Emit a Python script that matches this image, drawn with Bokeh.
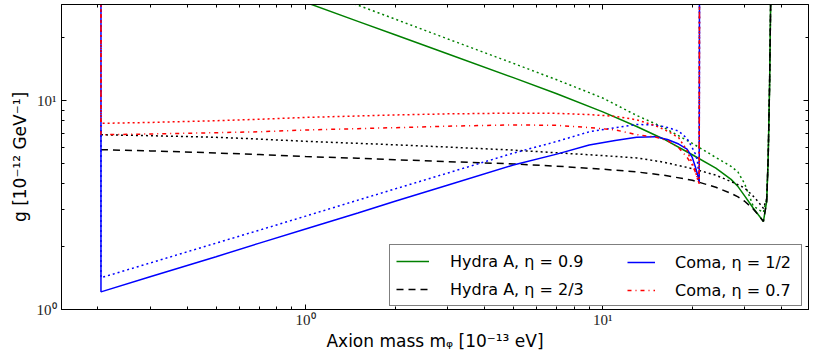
from bokeh.plotting import figure
from bokeh.models import (Range1d, FixedTicker, LogAxis, CustomJSTickFormatter,
                          Legend, LegendItem)
from bokeh.embed import file_html
from bokeh.resources import INLINE

# ---------------- data (axion mass in 1e-13 eV, g in 1e-12 GeV^-1) ----------------
hydra_m = [0.205, 0.3, 0.5, 0.7, 1.0, 1.5, 2, 3, 5, 7, 10, 13, 16, 20, 24, 27, 28.5,
           30, 32, 33.5, 34.7, 35.6, 36.0, 36.4, 36.8]
hydra_09 = [67, 55, 42.3, 35.5, 29.6, 24.0, 20.7, 16.8, 12.9, 10.8, 8.84, 7.53, 6.56,
            5.51, 4.76, 4.20, 3.88, 3.50, 3.07, 2.82, 2.64, 3.3, 5.3, 12, 40]
hydra_09_dot = [82, 67, 51, 42.9, 35.5, 28.7, 24.6, 19.8, 15.1, 12.6, 10.3, 8.5, 7.45,
                6.25, 5.35, 4.85, 4.55, 4.0, 3.15, 3.0, 2.92, 3.4, 5.3, 12, 40]
hydra_23 = [5.83, 5.75, 5.62, 5.52, 5.40, 5.30, 5.22, 5.11, 4.98, 4.86, 4.70, 4.56,
            4.40, 4.16, 3.85, 3.60, 3.46, 3.30, 3.04, 2.82, 2.64, 3.3, 5.3, 12, 40]
hydra_23_dot = [6.87, 6.80, 6.68, 6.55, 6.39, 6.25, 6.15, 6.00, 5.80, 5.63, 5.46, 5.32,
                5.08, 4.73, 4.40, 4.10, 3.96, 3.82, 3.50, 3.25, 3.05, 3.4, 5.3, 12, 40]

coma_m = [0.205, 0.205, 0.3, 0.5, 0.7, 1.0, 1.5, 2, 3, 5, 7, 9, 11, 13, 15, 16.5, 18,
          19.2, 20.0, 20.5, 20.8, 21.1, 21.15]
coma_12 = [40, 1.215, 1.435, 1.79, 2.08, 2.43, 2.90, 3.30, 3.94, 4.92, 5.55, 6.13, 6.45,
           6.69, 6.73, 6.52, 6.2, 5.87, 5.35, 4.8, 4.46, 4.07, 40]
coma_12_dot = [40, 1.42, 1.67, 2.08, 2.40, 2.80, 3.34, 3.78, 4.50, 5.61, 6.38, 7.10, 7.42,
               7.70, 7.65, 7.45, 7.15, 6.6, 5.95, 5.55, 5.17, 4.17, 40]
coma_07 = [40, 6.87, 6.93, 7.03, 7.10, 7.24, 7.35, 7.43, 7.55, 7.66, 7.62, 7.44, 7.25,
           6.88, 6.70, 6.45, 5.95, 5.36, 4.9, 4.55, 4.25, 4.0, 40]
coma_07_dot = [40, 7.79, 7.87, 8.02, 8.15, 8.32, 8.45, 8.55, 8.65, 8.72, 8.70, 8.58, 8.42,
               8.10, 7.60, 7.15, 6.65, 5.77, 5.0, 4.6, 4.22, 4.15, 40]

labels = ["Hydra A, \u03b7 = 0.9", "Hydra A, \u03b7 = 2/3",
          "Coma, \u03b7 = 1/2", "Coma, \u03b7 = 0.7"]

x_ticks = [1, 10]
x_minor = [0.2, 0.3, 0.4, 0.5, 0.6, 0.7, 0.8, 0.9, 2, 3, 4, 5, 6, 7, 8, 9, 20, 30, 40]
y_ticks = [1, 10]
y_minor = [2, 3, 4, 5, 6, 7, 8, 9, 20]

x_label = "Axion mass m\u1d69 [10\u207b\u00b9\u00b3 eV]"
y_label = "g [10\u207b\u00b9\u00b2 GeV\u207b\u00b9]"

# ---------------- figure ----------------
p = figure(width=809, height=353, x_axis_type="log", y_axis_type="log",
           x_range=Range1d(0.151, 49.2), y_range=Range1d(1, 28.9),
           output_backend="svg", toolbar_location=None,
           min_border_left=61, min_border_right=1, min_border_top=4, min_border_bottom=40)
p.grid.visible = False
p.outline_line_color = "black"
p.outline_line_width = 1
p.background_fill_color = "white"
p.border_fill_color = "white"

fmt = CustomJSTickFormatter(code="""
const sup = {"-1": "\u207b\u00b9", "0": "\u2070", "1": "\u00b9", "2": "\u00b2"};
const e = Math.round(Math.log10(tick));
return "10" + (sup[String(e)] || String(e));
""")


def style_axis(ax, ticks, minor, show):
    ax.ticker = FixedTicker(ticks=ticks, minor_ticks=minor)
    ax.major_tick_in = 5
    ax.major_tick_out = 0
    ax.minor_tick_in = 3
    ax.minor_tick_out = 0
    ax.axis_line_color = "black"
    ax.major_tick_line_color = "black"
    ax.minor_tick_line_color = "black"
    if show:
        ax.formatter = fmt
        ax.major_label_text_font = "Liberation Serif"
        ax.major_label_text_font_size = "15px"
        ax.major_label_text_color = "#222222"
        ax.axis_label_text_font = "DejaVu Sans"
        ax.axis_label_text_font_size = "17px"
        ax.axis_label_text_font_style = "normal"
        ax.axis_label_text_color = "black"
    else:
        ax.major_label_text_font_size = "1px"
        ax.major_label_text_alpha = 0
        ax.major_label_standoff = 0
        ax.axis_label_standoff = 0


style_axis(p.xaxis[0], x_ticks, x_minor, True)
style_axis(p.yaxis[0], y_ticks, y_minor, True)
p.xaxis[0].axis_label = x_label
p.xaxis[0].major_label_standoff = 2
p.xaxis[0].axis_label_standoff = 0
p.yaxis[0].axis_label = y_label
p.yaxis[0].major_label_standoff = 5
p.yaxis[0].axis_label_standoff = 4

top = LogAxis()
style_axis(top, x_ticks, x_minor, False)
p.add_layout(top, "above")
right = LogAxis()
style_axis(right, y_ticks, y_minor, False)
p.add_layout(right, "right")

GREEN, BLACK, BLUE, RED = "#008000", "#000000", "#0000ff", "#ff0000"
LW = 1.5

r_h09 = p.line(hydra_m, hydra_09, line_color=GREEN, line_width=LW)
p.line(hydra_m, hydra_09_dot, line_color=GREEN, line_width=LW, line_dash="2 3")
r_h23 = p.line(hydra_m, hydra_23, line_color=BLACK, line_width=LW, line_dash="7 5")
p.line(hydra_m, hydra_23_dot, line_color=BLACK, line_width=LW, line_dash="2 3")
r_c12 = p.line(coma_m, coma_12, line_color=BLUE, line_width=LW)
p.line(coma_m, coma_12_dot, line_color=BLUE, line_width=LW, line_dash="2 3")
r_c07 = p.line(coma_m, coma_07, line_color=RED, line_width=LW, line_dash="4 4 1 4")
p.line(coma_m, coma_07_dot, line_color=RED, line_width=LW, line_dash="2 3")

common = dict(padding=6, spacing=8, glyph_height=20, label_height=20, margin=0,
              label_text_font="DejaVu Sans", label_text_font_size="16px",
              label_text_color="black")
leg1 = Legend(items=[LegendItem(label=labels[0], renderers=[r_h09]),
                     LegendItem(label=labels[1], renderers=[r_h23])],
              location=(328, 3), glyph_width=33, label_standoff=21, label_width=345,
              border_line_color="black", border_line_width=1,
              background_fill_color="white", background_fill_alpha=1.0, **common)
leg2 = Legend(items=[LegendItem(label=labels[2], renderers=[r_c12]),
                     LegendItem(label=labels[3], renderers=[r_c07])],
              location=(560, 3), glyph_width=28, label_standoff=20,
              border_line_alpha=0, background_fill_alpha=0, **common)
p.add_layout(leg1)
p.add_layout(leg2)

open("out.html", "w").write(file_html(p, INLINE))
